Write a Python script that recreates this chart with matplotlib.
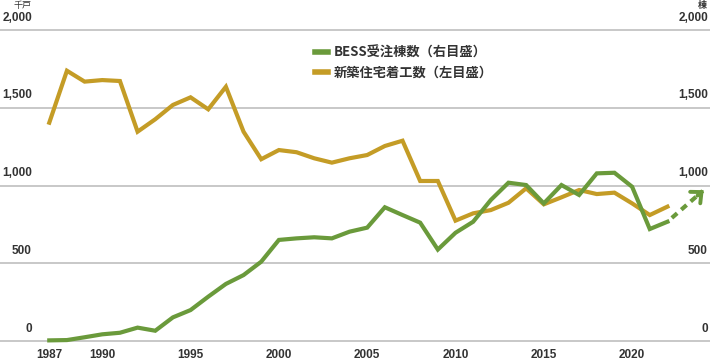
#!/usr/bin/env python3
"""
BESS orders vs. new housing starts (Japan), dual-scale line chart.
"""

import matplotlib
matplotlib.use("Agg")
import matplotlib.pyplot as plt
from matplotlib.lines import Line2D
from matplotlib.transforms import blended_transform_factory, offset_copy

# ============ Data ============
years = list(range(1987, 2023))

# new housing starts, thousand units (left scale)
housing_starts = [1404, 1738, 1668, 1678, 1672, 1346, 1426, 1518, 1567, 1490,
                  1635, 1346, 1169, 1228, 1214, 1175, 1147, 1175, 1196, 1254,
                  1288, 1029, 1029, 774, 821, 842, 889, 982, 879, 924,
                  971, 945, 954, 885, 810, 864]

# BESS orders, buildings (right scale)
bess_orders = [4, 6, 24, 43, 53, 86, 66, 152, 199, 285,
               367, 424, 510, 650, 660, 667, 660, 703, 729, 860,
               810, 761, 588, 696, 767, 907, 1018, 1003, 885, 1003,
               939, 1078, 1082, 992, 720, 767]

# projected trend (dashed arrow)
proj_years = [2022, 2024]
proj_values = [767, 965]

year_ticks = [1987, 1990, 1995, 2000, 2005, 2010, 2015, 2020]
value_ticks = [0, 500, 1000, 1500, 2000]
value_labels = ["0", "500", "1,000", "1,500", "2,000"]

legend_labels = ["BESS受注棟数（右目盛）", "新築住宅着工数（左目盛）"]

# ============ Style ============
GREEN = "#6a9a3b"
GOLD = "#c49c26"
GRID = "#c8c8c8"
TEXT = "#333333"
NUM_FONT = ["Liberation Sans", "DejaVu Sans"]
CJK_FONT = ["Noto Sans CJK JP", "DejaVu Sans"]

W, H = 710, 360
fig = plt.figure(figsize=(W / 100, H / 100), dpi=100)
# axes spans full width; bottom = value 0 line, top = value 2000 line
ax = fig.add_axes([0, (H - 341) / H, 1, (341 - 30) / H])
ax.set_xlim(1984.21, 2024.41)
ax.set_ylim(0, 2000)
for s in ax.spines.values():
    s.set_visible(False)

# gridlines
for v in value_ticks:
    ax.axhline(v, color=GRID, lw=1.4, zorder=1, clip_on=False)

# lines
ax.plot(years, housing_starts, color=GOLD, lw=3, solid_joinstyle="miter",
        zorder=3, clip_on=False)
ax.plot(years, bess_orders, color=GREEN, lw=3, solid_joinstyle="miter",
        zorder=4, clip_on=False)
ax.plot(proj_years, proj_values, color=GREEN, lw=3, ls=(1.6, (1.7, 1.3)),
        dash_capstyle="butt", zorder=4, clip_on=False)
ax.annotate("", xy=(proj_years[1] + 0.05, proj_values[1] + 5),
            xytext=(proj_years[1] - 0.3, proj_values[1] - 30),
            arrowprops=dict(arrowstyle="->,head_length=0.6,head_width=0.55",
                            color=GREEN, lw=2.8, shrinkA=0, shrinkB=0,
                            joinstyle="miter"),
            zorder=5, annotation_clip=False)

# x ticks
ax.set_xticks(year_ticks)
ax.set_xticklabels([str(y) for y in year_ticks])
ax.tick_params(axis="x", length=0, pad=5.5)
for lab in ax.get_xticklabels():
    lab.set_fontfamily(NUM_FONT)
    lab.set_fontweight("bold")
    lab.set_fontsize(8.5)
    lab.set_color(TEXT)
ax.set_yticks([])

# y labels sit just above their gridlines on both sides
trans = blended_transform_factory(fig.transFigure, ax.transData)
trans_up = offset_copy(trans, fig=fig, y=4.5, units="points")
for v, lab in zip(value_ticks, value_labels):
    ax.text(32 / W, v, lab, transform=trans_up, ha="right", va="bottom",
            fontsize=8.5, fontweight="bold", color=TEXT, family=NUM_FONT)
    ax.text(708 / W, v, lab, transform=trans_up, ha="right", va="bottom",
            fontsize=8.5, fontweight="bold", color=TEXT, family=NUM_FONT)

# unit labels
fig.text(32 / W, 1 - 1 / H, "千戸", ha="right", va="top", fontsize=6.5,
         color=TEXT, family=CJK_FONT)
fig.text(707 / W, 1 - 1 / H, "棟", ha="right", va="top", fontsize=6.5,
         color=TEXT, family=CJK_FONT, fontweight="bold")

# legend
handles = [Line2D([], [], color=GREEN, lw=4), Line2D([], [], color=GOLD, lw=4)]
leg = ax.legend(handles, legend_labels, loc="upper left",
                bbox_to_anchor=(315 / W, 1 - 46 / H), bbox_transform=fig.transFigure,
                frameon=False, handlelength=1.0, handletextpad=0.45,
                labelspacing=0.4, borderaxespad=0, borderpad=0,
                prop=dict(family=CJK_FONT, weight="bold", size=9.5))
for t in leg.get_texts():
    t.set_color(TEXT)

fig.savefig("out.png", dpi=100)
